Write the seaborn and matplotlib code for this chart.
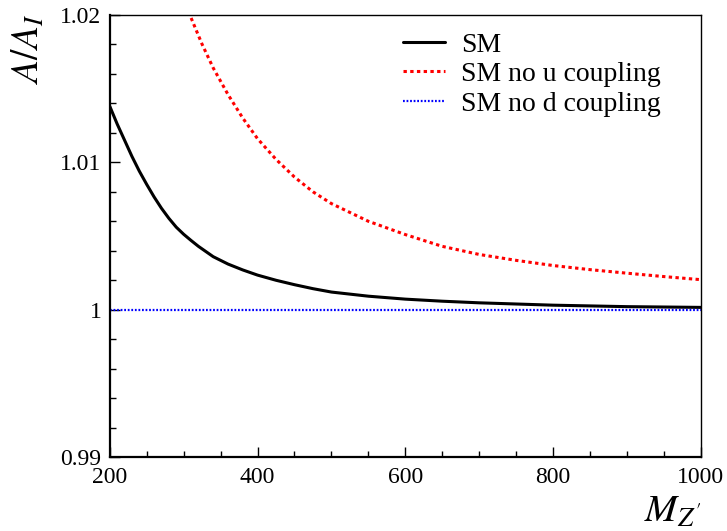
import numpy as np
import pandas as pd

import matplotlib
matplotlib.use("Agg")
import matplotlib.pyplot as plt
from matplotlib.ticker import MultipleLocator, FuncFormatter
import seaborn as sns


# values

m_sm = [200, 210, 220, 230, 240, 250, 260, 270, 280, 290, 300, 310,
        320, 330, 340, 360, 380, 400, 425, 450, 475, 500, 550, 600,
        650, 700, 800, 900, 1000]
a_sm = [1.0138, 1.0126, 1.0115, 1.0104, 1.0094, 1.0085, 1.00765, 1.00688,
        1.0062, 1.0056, 1.00512, 1.0047, 1.0043, 1.00395, 1.0036,
        1.0031, 1.0027, 1.00235, 1.0020, 1.0017, 1.00143, 1.0012,
        1.00092, 1.00072, 1.00058, 1.00047, 1.00031, 1.00021, 1.00016]

m_no_u = [300, 310, 325, 340, 360, 380, 400, 425, 450, 475, 500, 550,
          600, 650, 700, 750, 800, 850, 900, 950, 1000]
a_no_u = [1.0212, 1.0198, 1.0180, 1.0164, 1.0146, 1.0130, 1.0116,
          1.0102, 1.0090, 1.0080, 1.0072, 1.0060, 1.0051, 1.0043,
          1.00375, 1.00335, 1.0030, 1.00272, 1.00248, 1.00225, 1.00204]

m_no_d = [200, 1000]
a_no_d = [1.0, 1.0]

labels = ["SM", "SM no u coupling", "SM no d coupling"]



def main():

    sns.set_style("ticks")

    plt.rcParams["font.family"] = ["Liberation Serif", "DejaVu Serif"]
    plt.rcParams["mathtext.fontset"] = "stix"
    plt.rcParams["axes.edgecolor"] = "black"
    plt.rcParams["xtick.color"] = "black"
    plt.rcParams["ytick.color"] = "black"
    plt.rcParams["text.color"] = "black"


    fig = plt.figure(
        figsize=(7.27, 5.31),
        dpi=100
    )

    ax = fig.add_axes([0.151, 0.139, 0.813, 0.833])


    sns.lineplot(
        x=m_sm,
        y=a_sm,
        ax=ax,
        color="black",
        linewidth=2.2,
        label=labels[0]
    )

    sns.lineplot(
        x=m_no_u,
        y=a_no_u,
        ax=ax,
        color="red",
        linewidth=2.2,
        label=labels[1]
    )
    ax.lines[-1].set_dashes((1.1, 1.1))

    sns.lineplot(
        x=m_no_d,
        y=a_no_d,
        ax=ax,
        color="blue",
        linewidth=1.6,
        label=labels[2]
    )
    ax.lines[-1].set_dashes((0.8, 0.8))


    ax.set_xlim(200, 1000)
    ax.set_ylim(0.99, 1.02)

    ax.xaxis.set_major_locator(MultipleLocator(200))
    ax.xaxis.set_minor_locator(MultipleLocator(50))
    ax.yaxis.set_major_locator(MultipleLocator(0.01))
    ax.yaxis.set_minor_locator(MultipleLocator(0.002))

    ax.yaxis.set_major_formatter(
        FuncFormatter(lambda v, p: f"{v:g}")
    )

    ax.tick_params(
        which="both",
        direction="in",
        top=False,
        right=False,
        labelsize=17,
        colors="black"
    )
    ax.tick_params(which="major", length=7, width=1)
    ax.tick_params(which="minor", length=4, width=1)
    ax.tick_params(axis="x", pad=7)
    ax.tick_params(axis="y", pad=6)

    for side in ["left", "bottom"]:
        ax.spines[side].set_linewidth(1.6)
    for side in ["top", "right"]:
        ax.spines[side].set_linewidth(1.0)


    ax.set_xlabel("")
    ax.set_ylabel("")

    fig.text(
        0.925, 0.0,
        r"$M_{Z'}$",
        fontsize=28,
        ha="center",
        va="bottom"
    )

    fig.text(
        0.04, 0.975,
        r"$A/A_I$",
        fontsize=27,
        rotation=90,
        ha="center",
        va="top"
    )


    # legenda

    ax.legend(
        loc="upper left",
        bbox_to_anchor=(0.463, 1.005),
        frameon=False,
        fontsize=20,
        handlelength=1.5,
        handletextpad=0.6,
        labelspacing=0.15,
        borderaxespad=0.3
    )


    fig.savefig("out.png", dpi=100)
    plt.close(fig)



if __name__ == "__main__":

    main()
